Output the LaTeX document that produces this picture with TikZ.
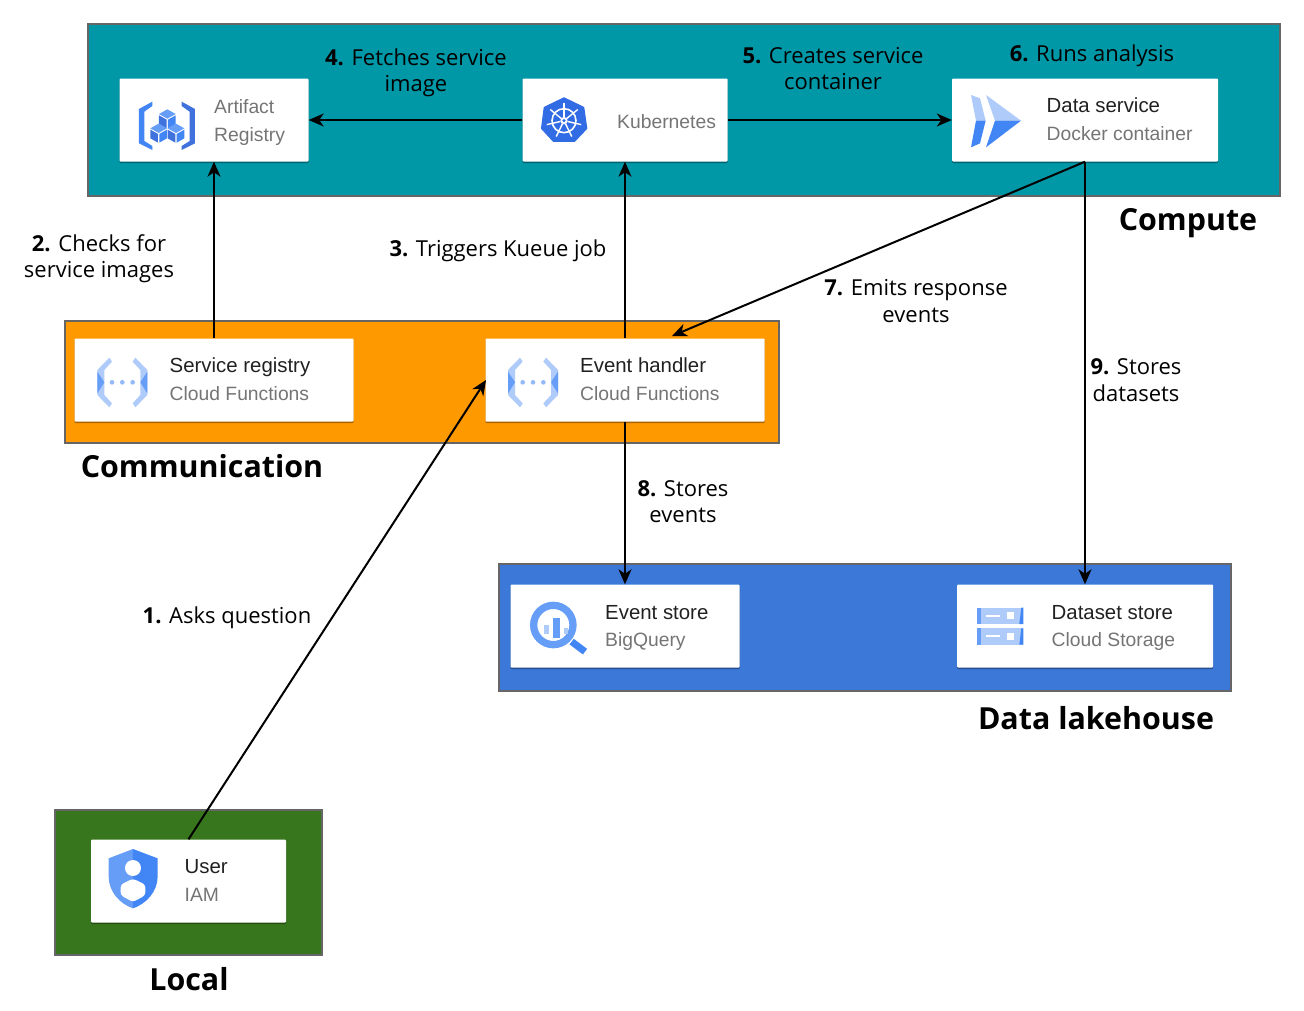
\documentclass[tikz,border=0pt]{standalone}
\usepackage{fontspec}
\setmainfont{Open Sans}
\newfontfamily\cardfont{Liberation Sans}
\usetikzlibrary{arrows.meta, shadows}

\definecolor{computebg}{HTML}{0097A7}
\definecolor{commbg}{HTML}{FF9900}
\definecolor{lakebg}{HTML}{3C78D8}
\definecolor{localbg}{HTML}{38761D}
\definecolor{groupline}{HTML}{666666}
\definecolor{titlegray}{HTML}{212121}
\definecolor{subgray}{HTML}{757575}
\definecolor{iconlight}{HTML}{AECBFA}
\definecolor{iconmid}{HTML}{669DF6}
\definecolor{icondark}{HTML}{4285F4}
\definecolor{iconart}{HTML}{3F72DC}
\definecolor{iconkube}{HTML}{326CE5}

\tikzset{
  group/.style={draw=groupline, line width=1.5pt, inner sep=0pt},
  card/.style={fill=white, rounded corners=1pt, inner sep=0pt,
    drop shadow={shadow xshift=0pt, shadow yshift=-1.5pt, opacity=.35, fill=black}},
  cardtitle/.style={anchor=base west, inner sep=0pt, text=titlegray, font=\cardfont\fontsize{20.4}{24}\selectfont},
  cardsub/.style={anchor=base west, inner sep=0pt, text=subgray, font=\cardfont\fontsize{19.3}{24}\selectfont},
  steplabel/.style={align=center, inner sep=0pt, font=\fontsize{22}{26.5}\selectfont},
  grouplabel/.style={inner sep=0pt, font=\fontsize{30.4}{36}\selectfont\bfseries},
  link/.style={-{Stealth[length=15pt, width=13pt, inset=4.5pt]}, line width=2pt}
}

%%% two brackets with dots
\newcommand{\fnicon}[1]{
\begin{scope}[shift={#1}, scale=0.3333]
\fill[iconlight] (148,113)--(112,150)--(112,225)--(148,262)--(156,250)--(133,225)--(133,150)--(156,125)--cycle;
\fill[iconlight] (226,113)--(262,150)--(262,225)--(226,262)--(218,250)--(241,225)--(241,150)--(218,125)--cycle;
\fill[iconmid] (112,155)--(133,187)--(112,220)--cycle;
\fill[iconmid] (262,155)--(241,187)--(262,220)--cycle;
\foreach \dotx in {156,187,218}
  \fill[iconmid!70!white] (\dotx,187) circle (7);
\end{scope}
}

%%% one small box of the artifact icon
\newcommand{\cubeicon}[1]{
\begin{scope}[shift={#1}]
\fill[iconmid] (0,-27)--(25,-13)--(0,1)--(-25,-13)--cycle;
\fill[iconart] (-25,-9)--(-2,4)--(-2,30)--(-25,17)--cycle;
\fill[icondark] (25,-9)--(2,4)--(2,30)--(25,17)--cycle;
\end{scope}
}

\begin{document}
\begin{tikzpicture}[x=1pt, y=-1pt]
\useasboundingbox (0,0) rectangle (1304,1010);

%%%groups
\node[group, fill=computebg, minimum width=1192pt, minimum height=172pt] (compute) at (684,110) {};
\node[group, fill=commbg, minimum width=714pt, minimum height=122pt] (communication) at (422,382) {};
\node[group, fill=lakebg, minimum width=732pt, minimum height=127pt] (lakehouse) at (865,627.5) {};
\node[group, fill=localbg, minimum width=267pt, minimum height=145pt] (local) at (188.5,882.5) {};

%%%cards
\node[card, minimum width=189pt, minimum height=83pt] (artifact) at (214,120) {};
\node[card, minimum width=205pt, minimum height=83pt] (kube) at (625,120) {};
\node[card, minimum width=266pt, minimum height=83pt] (dataservice) at (1085,120) {};
\node[card, minimum width=279pt, minimum height=83pt] (registry) at (214,380) {};
\node[card, minimum width=279pt, minimum height=83pt] (handler) at (625,380) {};
\node[card, minimum width=229pt, minimum height=83pt] (eventstore) at (625,626) {};
\node[card, minimum width=256pt, minimum height=83pt] (datasetstore) at (1085,626) {};
\node[card, minimum width=195pt, minimum height=83pt] (user) at (188.5,881) {};

%%%card texts
\node[cardsub] (artifactone) at (214,113.5) {Artifact};
\node[cardsub] (artifacttwo) at (214,141.5) {Registry};
\node[cardsub] (kubetext) at (617,128) {Kubernetes};
\node[cardtitle] (datatitle) at (1046.5,112) {Data service};
\node[cardsub] (datasub) at (1046.5,140) {Docker container};
\node[cardtitle] (registrytitle) at (169.5,372) {Service registry};
\node[cardsub] (registrysub) at (169.5,400) {Cloud Functions};
\node[cardtitle] (handlertitle) at (580,372) {Event handler};
\node[cardsub] (handlersub) at (580,400) {Cloud Functions};
\node[cardtitle] (storetitle) at (605,619) {Event store};
\node[cardsub] (storesub) at (605,646.5) {BigQuery};
\node[cardtitle] (settitle) at (1051.5,619) {Dataset store};
\node[cardsub] (setsub) at (1051.5,646.5) {Cloud Storage};
\node[cardtitle] (usertitle) at (184.5,873.5) {User};
\node[cardsub] (usersub) at (184.5,901) {IAM};

%%%artifact icon
\begin{scope}[shift={(90,60)}, scale=0.3333]
\fill[icondark] (187,125)--(147,147)--(147,250)--(187,270)--(187,258)--(163,243)--(163,155)--(187,138)--cycle;
\fill[iconart] (275,125)--(315,147)--(315,250)--(275,270)--(275,258)--(299,243)--(299,155)--(275,138)--cycle;
\cubeicon{(232,175)}
\cubeicon{(206,218)}
\cubeicon{(258,218)}
\end{scope}

%%%kubernetes icon
\begin{scope}[shift={(510,70)}, scale=0.3333]
\fill[iconkube, draw=iconkube, line width=2pt, line join=round] (162,85)--(220,113)--(229,175)--(193,213)--(131,213)--(96,175)--(104,113)--cycle;
\draw[white, line width=1.6pt] (162,152) circle (36);
\fill[white] (162,152) circle (11);
\fill[iconkube] (162,152) circle (5);
\foreach \spoke in {-90,-39,13,64,116,167,219}
  \draw[white, line width=1.4pt] (162,152)++(\spoke:11)--++(\spoke:42);
\end{scope}

%%%data service icon
\begin{scope}[shift={(940,70)}, scale=0.3333]
\fill[iconlight] (93,75)--(120,85)--(137,152)--(108,152)--cycle;
\fill[icondark] (108,152)--(137,152)--(120,220)--(93,232)--cycle;
\fill[iconlight] (138,75)--(243,152)--(165,152)--cycle;
\fill[icondark] (165,152)--(243,152)--(138,232)--cycle;
\end{scope}

\fnicon{(60,320)}
\fnicon{(470.7,320)}

%%%bigquery icon
\begin{scope}[shift={(500,570)}, scale=0.3333]
\draw[icondark, line width=7pt] (215,215)--(255,245);
\fill[iconmid, even odd rule] (160,165) circle (70) (160,165) circle (48);
\fill[iconlight] (132,165) rectangle (146,193);
\fill[iconlight] (191,175) rectangle (205,193);
\fill[iconmid] (160,145) rectangle (179,205);
\end{scope}

%%%storage icon
\begin{scope}[shift={(950,570)}, scale=0.3333]
\foreach \rowy in {113,175} {
  \fill[iconlight] (81,\rowy) rectangle ++(139,49);
  \fill[iconmid] (81,\rowy) rectangle ++(12,49);
  \fill[icondark] (208,\rowy+49)--(220,\rowy+49)--(220,\rowy)--(214,\rowy)--cycle;
  \fill[white] (107,\rowy+21) rectangle ++(43,6);
  \fill[white] (171,\rowy+13) rectangle ++(21,22);
}
\end{scope}

%%%iam icon
\begin{scope}[shift={(50,800)}, scale=0.3333]
\fill[iconmid] (249,147)--(176,175)--(176,230) .. controls (176,275) and (210,312) .. (249,325)--cycle;
\fill[icondark] (249,147)--(323,175)--(323,230) .. controls (323,275) and (288,312) .. (249,325)--cycle;
\fill[white] (249,204) circle (24);
\fill[white, rounded corners=3pt] (249,236)--(286,254)--(286,286)--(249,306)--(212,286)--(212,254)--cycle;
\end{scope}

%%%connectors
\coordinate (handlertop) at (672,336);
\coordinate (handlerside) at (486,380);
\draw[link] (user.north) -- (handlerside);
\draw[link] (registry.north) -- (artifact.south);
\draw[link] (handler.north) -- (kube.south);
\draw[link] (kube.west) -- (artifact.east);
\draw[link] (kube.east) -- (dataservice.west);
\draw[link] (dataservice.south) -- (handlertop);
\draw[link] (handler.south) -- (eventstore.north);
\draw[link] (dataservice.south) -- (datasetstore.north);

%%%labels
\node[steplabel] (asks) at (227,618) {\textbf{1.} Asks question};
\node[steplabel] (checks) at (99,258.5) {\textbf{2.} Checks for\\service images};
\node[steplabel] (triggers) at (498,251) {\textbf{3.} Triggers Kueue job};
\node[steplabel] (fetches) at (416,73) {\textbf{4.} Fetches service\\image};
\node[steplabel] (creates) at (833,68.5) {\textbf{5.} Creates service\\container};
\node[steplabel] (runs) at (1092,56) {\textbf{6.} Runs analysis};
\node[steplabel] (emits) at (916,301) {\textbf{7.} Emits response\\events};
\node[steplabel] (storesevents) at (683,501.5) {\textbf{8.} Stores\\events};
\node[steplabel] (storesdata) at (1136,380) {\textbf{9.} Stores\\datasets};

\node[grouplabel] (computelabel) at (1188,223) {Compute};
\node[grouplabel] (commlabel) at (202,466) {Communication};
\node[grouplabel] (lakelabel) at (1096,718) {Data lakehouse};
\node[grouplabel] (locallabel) at (189,979) {Local};

\end{tikzpicture}
\end{document}
